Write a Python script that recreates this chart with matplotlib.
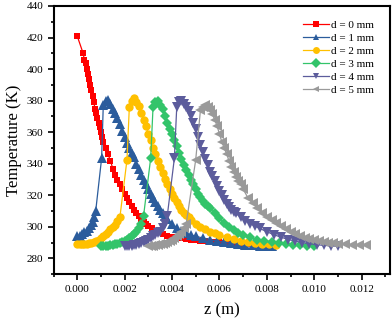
import matplotlib
matplotlib.use("Agg")
import matplotlib.pyplot as plt
from matplotlib.ticker import MultipleLocator

plt.rcParams['font.family'] = ['Liberation Serif', 'DejaVu Serif']
plt.rcParams['mathtext.fontset'] = 'stix'

# ---- data (z in m, T in K) ----
z_d0 = [0.0000, 0.00025, 0.00030, 0.00035, 0.00040, 0.00045, 0.00050, 0.00055, 0.00060, 0.00065,
        0.00070, 0.00075, 0.00080, 0.00085, 0.00090, 0.00095, 0.00100, 0.00105, 0.00110, 0.00120,
        0.00130, 0.00140, 0.00150, 0.00160, 0.00170, 0.00180, 0.00190, 0.00200, 0.00210, 0.00220,
        0.00230, 0.00240, 0.00250, 0.00260, 0.00270, 0.00280, 0.00290, 0.00300, 0.00315, 0.00330,
        0.00345, 0.00360, 0.00380, 0.00400, 0.00420, 0.00440, 0.00460, 0.00480, 0.00500, 0.00520,
        0.00540, 0.00560, 0.00580, 0.00600, 0.00620, 0.00640, 0.00660, 0.00680, 0.00700, 0.00720]
T_d0 = [421, 410, 406, 404, 400, 397, 394, 390, 387, 383,
        379, 375, 372, 369, 366, 363, 360, 357, 354, 350,
        346, 342, 337, 333, 330, 327, 324, 321, 318, 316,
        313, 311, 309, 307, 305, 303, 302, 300.5, 299, 297.5,
        296.5, 295.5, 294.5, 293.8, 293.2, 292.7, 292.3, 292, 291.6, 291.3,
        291, 290.7, 290.5, 290.3, 290, 289.8, 289.6, 289.4, 289.2, 289]

z_d1 = [0.0000, 0.0001, 0.0002, 0.0003, 0.0004, 0.0005, 0.0006, 0.00065, 0.0007, 0.00078,
        0.00103, 0.0011, 0.0012, 0.0013, 0.0014, 0.0015, 0.0016, 0.0017, 0.0018, 0.0019,
        0.0020, 0.0021, 0.0022, 0.0023, 0.0024, 0.0025, 0.0026, 0.0027, 0.0028, 0.0029,
        0.0030, 0.0031, 0.0032, 0.0033, 0.0034, 0.0035, 0.0036, 0.0037, 0.0038, 0.0040,
        0.0042, 0.0044, 0.0046, 0.0048, 0.0050, 0.0053, 0.0056, 0.0059, 0.0062, 0.0065,
        0.0068, 0.0071, 0.0074, 0.0077, 0.0080, 0.0082]
T_d1 = [294, 294.5, 295.5, 296.5, 297.5, 299, 301, 303, 306, 310,
        343.5, 377, 379.5, 380.5, 378, 375, 372, 369, 365, 361,
        357, 353, 350, 347, 344, 340, 336.5, 333, 330, 327,
        324, 321, 318, 315.5, 313, 311, 309, 307, 305, 302,
        299.5, 297.5, 296, 295, 294, 293, 292, 291, 290.3, 289.7,
        289.2, 288.8, 288.5, 288.2, 288, 287.8]

z_d2 = [0.0000, 0.0001, 0.0002, 0.0003, 0.0004, 0.0005, 0.0006, 0.0007, 0.0008, 0.0009,
        0.0010, 0.0011, 0.0012, 0.0013, 0.0014, 0.0015, 0.0016, 0.0017, 0.0018, 0.0021,
        0.0022, 0.0023, 0.0024, 0.0025, 0.0026, 0.0027, 0.0028, 0.0029, 0.0030, 0.0031,
        0.0032, 0.0033, 0.0034, 0.0035, 0.0036, 0.0037, 0.0038, 0.0039, 0.0040, 0.0041,
        0.0042, 0.0043, 0.0044, 0.0045, 0.0046, 0.0047, 0.0048, 0.0050, 0.0052, 0.0054,
        0.0056, 0.0058, 0.0060, 0.0063, 0.0066, 0.0069, 0.0072, 0.0075, 0.0078, 0.0081,
        0.0084]
T_d2 = [289, 289, 289, 289.2, 289.4, 289.7, 290, 290.5, 291, 292,
        293, 294, 295.5, 297, 298.5, 300, 301.5, 303.5, 306, 342.5,
        376, 380, 381.5, 379, 376.5, 372, 368, 364, 359, 355,
        350, 346, 342, 338, 334, 330.5, 327, 324, 321, 318.5,
        316, 313.5, 311, 309, 307.5, 306, 304.5, 302, 300, 298.5,
        297, 296, 295, 293.5, 292.2, 291.2, 290.4, 289.8, 289.3, 288.9,
        288.6]

z_d3 = [0.0010, 0.0011, 0.0012, 0.0013, 0.0014, 0.0015, 0.0016, 0.0017, 0.0018, 0.0019,
        0.0020, 0.0021, 0.0022, 0.0023, 0.0024, 0.0025, 0.0026, 0.0027, 0.0028, 0.0031,
        0.0032, 0.0033, 0.0034, 0.0035, 0.0036, 0.0037, 0.0038, 0.0039, 0.0040, 0.0041,
        0.0042, 0.0043, 0.0044, 0.0045, 0.0046, 0.0047, 0.0048, 0.0049, 0.0050, 0.0051,
        0.0052, 0.0053, 0.0054, 0.0055, 0.0056, 0.0058, 0.0060, 0.0062, 0.0064, 0.0066,
        0.0068, 0.0070, 0.0073, 0.0076, 0.0079, 0.0082, 0.0085, 0.0088, 0.0091, 0.0094,
        0.0097, 0.0100]
T_d3 = [288, 288, 288, 288.2, 288.4, 288.6, 289, 289.4, 290, 290.6,
        291.3, 292, 293, 294, 295.5, 297, 299, 302, 307, 343.5,
        376, 379, 380, 377.5, 375, 370, 366, 362, 359, 355,
        351, 347, 343, 339, 336, 333, 330, 327, 324, 321,
        319, 316.5, 314.5, 313, 312, 308.5, 305.5, 302.5, 300, 298,
        296.3, 295, 293.3, 292, 291, 290.2, 289.5, 289, 288.6, 288.3,
        288, 287.8]

z_d4 = [0.0020, 0.0021, 0.0022, 0.0023, 0.0024, 0.0025, 0.0026, 0.0027, 0.0028, 0.0029,
        0.0030, 0.0031, 0.0032, 0.0033, 0.0034, 0.0035, 0.0036, 0.0037, 0.0038, 0.0041,
        0.0042, 0.0043, 0.0044, 0.0045, 0.0046, 0.0047, 0.0048, 0.0049, 0.0050, 0.0051,
        0.0052, 0.0053, 0.0054, 0.0055, 0.0056, 0.0057, 0.0058, 0.0059, 0.0060, 0.0061,
        0.0062, 0.0063, 0.0064, 0.0065, 0.0066, 0.0067, 0.0069, 0.0071, 0.0073, 0.0075,
        0.0077, 0.0080, 0.0083, 0.0086, 0.0089, 0.0092, 0.0095, 0.0098, 0.0101, 0.0104,
        0.0107, 0.0110]
T_d4 = [288, 288, 288, 288.2, 288.4, 288.8, 289.2, 289.7, 290.3, 291,
        292, 293, 294, 295, 296, 297, 299, 302, 307, 343.5,
        376, 379, 379.5, 378, 376, 373.5, 370, 366, 362, 357,
        352, 347.5, 343, 339, 335, 332, 329, 326, 323, 320,
        317, 314.5, 312.5, 310.5, 309.5, 308.5, 306, 304, 302, 300.5,
        299, 297, 295, 293.5, 292, 291, 290, 289.3, 288.7, 288.3,
        288, 287.7]

z_d5 = [0.0030, 0.0031, 0.0032, 0.0033, 0.0034, 0.0035, 0.0036, 0.0037, 0.0038, 0.0039,
        0.0040, 0.0041, 0.0042, 0.0043, 0.0044, 0.0045, 0.0046, 0.0050, 0.0052, 0.0053,
        0.0054, 0.0055, 0.0056, 0.0057, 0.0058, 0.0059, 0.0060, 0.0061, 0.0062, 0.0063,
        0.0064, 0.0065, 0.0066, 0.0067, 0.0068, 0.0069, 0.0070, 0.0072, 0.0074, 0.0076,
        0.0078, 0.0080, 0.0082, 0.0084, 0.0086, 0.0088, 0.0090, 0.0092, 0.0094, 0.0096,
        0.0098, 0.0100, 0.0102, 0.0104, 0.0106, 0.0108, 0.0110, 0.0113, 0.0116, 0.0119,
        0.0122]
T_d5 = [288, 288, 288.2, 288.4, 288.6, 289, 289.4, 290, 290.6, 291.3,
        292, 293, 294, 295.5, 297, 299, 302, 342.5, 374, 376,
        377, 376, 374, 371.5, 368, 364, 359, 354, 350, 346.5,
        342, 338, 334.5, 331.5, 329, 327, 324, 318.5, 315, 312,
        309, 306.5, 304.5, 302.5, 300.5, 298.5, 297, 295.5, 294.2, 293,
        292.2, 291.5, 290.9, 290.4, 290, 289.7, 289.4, 289, 288.7, 288.5,
        288.3]

labels = ["d = 0 mm", "d = 1 mm", "d = 2 mm", "d = 3 mm", "d = 4 mm", "d = 5 mm"]
series = [(z_d0, T_d0), (z_d1, T_d1), (z_d2, T_d2), (z_d3, T_d3), (z_d4, T_d4), (z_d5, T_d5)]
colors = ["#ff0000", "#2b5c9c", "#ffc000", "#33c46a", "#5c5c9c", "#9a9a9a"]
markers = ["s", "^", "o", "D", "v", "<"]
msizes = [5.0, 6.5, 6.0, 5.0, 6.5, 6.5]

fig = plt.figure(figsize=(3.92, 3.23), dpi=100)
ax = fig.add_axes([0.1365, 0.151, 0.8585, 0.8305])

for (z, T), lab, c, m, ms in zip(series, labels, colors, markers, msizes):
    ax.plot(z, T, color=c, marker=m, markersize=ms, linewidth=0.9,
            markeredgewidth=0, label=lab)

ax.set_xlim(-0.001, 0.0132)
ax.set_ylim(270, 440)
ax.xaxis.set_major_locator(MultipleLocator(0.002))
ax.xaxis.set_minor_locator(MultipleLocator(0.001))
ax.yaxis.set_major_locator(MultipleLocator(20))
ax.yaxis.set_minor_locator(MultipleLocator(10))
ax.xaxis.set_major_formatter(matplotlib.ticker.FormatStrFormatter('%.3f'))
ax.tick_params(which='both', direction='out', top=False, right=False, labelsize=8, width=1.2)
ax.tick_params(which='major', length=4)
ax.tick_params(which='minor', length=2.5)
for s in ax.spines.values():
    s.set_linewidth(1.5)

ax.set_xlabel('z (m)', fontsize=12, labelpad=6)
ax.set_ylabel('Temperature (K)', fontsize=12, labelpad=3)

leg = ax.legend(loc='upper right', bbox_to_anchor=(0.975, 0.975), frameon=False, fontsize=8,
                handlelength=2.3, handletextpad=0.2, labelspacing=0.28, borderpad=0.2)
for h in leg.legend_handles:
    h.set_markersize(5)

fig.savefig('out.png', dpi=100)
